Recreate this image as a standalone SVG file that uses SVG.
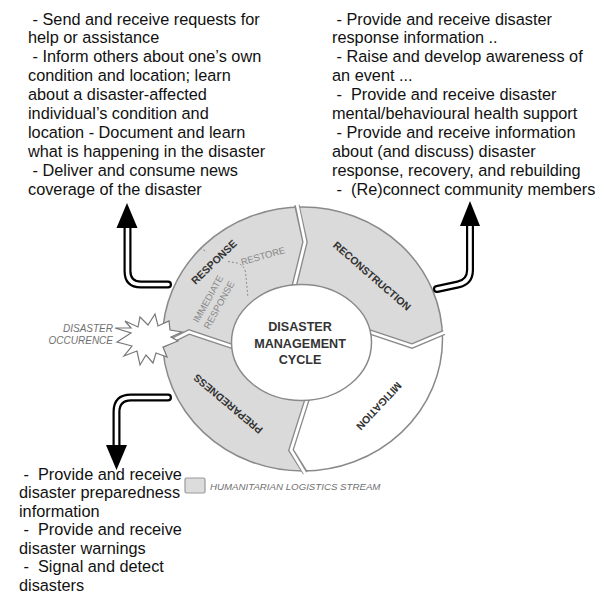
<svg xmlns="http://www.w3.org/2000/svg" width="606" height="596" viewBox="0 0 606 596">
<style>
.t{font-family:"Liberation Sans",Arial,sans-serif;font-size:16.3px;fill:#111}
.seg{stroke:none}
.g{fill:#dadada}
.w{fill:#ffffff}
.gapo{fill:none;stroke:#8a8a8a;stroke-width:5.5;stroke-linejoin:miter}
.gapi{fill:none;stroke:#ffffff;stroke-width:2.8;stroke-linejoin:miter}
.lbl{font-family:"Liberation Sans",Arial,sans-serif;font-size:10.5px;font-weight:bold;fill:#333;text-anchor:middle}
.sub{font-family:"Liberation Sans",Arial,sans-serif;font-size:9.5px;fill:#888;text-anchor:middle}
.ctr{font-family:"Liberation Sans",Arial,sans-serif;font-size:12.6px;font-weight:bold;fill:#333;text-anchor:middle}
.ital{font-family:"Liberation Sans",Arial,sans-serif;font-style:italic;fill:#707070}
.sh1{fill:none;stroke:#000;stroke-width:8;stroke-linecap:round;stroke-linejoin:round}
.sh2{fill:none;stroke:#fff;stroke-width:3.6;stroke-linecap:round;stroke-linejoin:round}
</style>

<g id="text-response" class="t">
<text x="28" y="24.5">&#160;- Send and receive requests for</text>
<text x="28" y="43.4">help or assistance</text>
<text x="28" y="62.4">&#160;- Inform others about one’s own</text>
<text x="28" y="81.3">condition and location; learn</text>
<text x="28" y="100.3">about a disaster-affected</text>
<text x="28" y="119.2">individual’s condition and</text>
<text x="28" y="138.2">location - Document and learn</text>
<text x="28" y="157.1">what is happening in the disaster</text>
<text x="28" y="176.1">&#160;- Deliver and consume news</text>
<text x="28" y="195">coverage of the disaster</text>
</g>

<g id="text-reconstruction" class="t">
<text x="332" y="24.5">&#160;- Provide and receive disaster</text>
<text x="332" y="43.4">response information ..</text>
<text x="332" y="62.4">&#160;- Raise and develop awareness of</text>
<text x="332" y="81.3">an event ...</text>
<text x="332" y="100.3">&#160;-&#160; Provide and receive disaster</text>
<text x="332" y="119.2">mental/behavioural health support</text>
<text x="332" y="138.2">&#160;- Provide and receive information</text>
<text x="332" y="157.1">about (and discuss) disaster</text>
<text x="332" y="176.1">response, recovery, and rebuilding</text>
<text x="332" y="195">&#160;-&#160; (Re)connect community members</text>
</g>

<g id="text-preparedness" class="t">
<text x="19" y="479.5">&#160;-&#160; Provide and receive</text>
<text x="19" y="498">disaster preparedness</text>
<text x="19" y="516.5">information</text>
<text x="19" y="535">&#160;-&#160; Provide and receive</text>
<text x="19" y="553.5">disaster warnings</text>
<text x="19" y="572">&#160;-&#160; Signal and detect</text>
<text x="19" y="590.5">disasters</text>
</g>

<g id="seg-response">
<path class="seg g" d="M302 339 L246 351 L189 332 L163 345 A140 132 0 0 1 297 207 L305 242 L292 295 Z"/>
</g>
<g id="seg-reconstruction">
<path class="seg g" d="M302 339 L292 295 L305 242 L297 207 A140 132 0 0 1 442.4 333 L412 346 L355 327 Z"/>
</g>
<g id="seg-mitigation">
<path class="seg w" d="M302 339 L355 327 L412 346 L442.4 333 A140 132 0 0 1 305 471 L291 450 L311 387 Z"/>
</g>
<g id="seg-preparedness">
<path class="seg g" d="M302 339 L311 387 L291 450 L305 471 A140 132 0 0 1 163 345 L189 332 L246 351 Z"/>
</g>

<g id="ring-lines">
<ellipse cx="302.5" cy="339" rx="140" ry="132" fill="none" stroke="#8a8a8a" stroke-width="1.5"/>
<polyline class="gapo" points="296.8,205 305,242 292,295"/>
<polyline class="gapi" points="296.8,203 305,242 292,295"/>
<polyline class="gapo" points="444,332.5 412,346 355,327"/>
<polyline class="gapi" points="446,331.7 412,346 355,327"/>
<polyline class="gapo" points="305.4,473 291,450 311,387"/>
<polyline class="gapi" points="306,475 291,450 311,387"/>
<polyline class="gapo" points="161,346 189,332 246,351"/>
<polyline class="gapi" points="159,347 189,332 246,351"/>
<path d="M200 248 L207 252 M228 261.5 L237 263 Q244 265 245.5 272 L248 298" fill="none" stroke="#8a8a8a" stroke-width="1" stroke-dasharray="2,2"/>
</g>

<g id="center">
<ellipse cx="301.5" cy="342.5" rx="70" ry="58" fill="#fff" stroke="#8a8a8a" stroke-width="1.5"/>
<text class="ctr" x="300" y="331">DISASTER</text>
<text class="ctr" x="300" y="347.5">MANAGEMENT</text>
<text class="ctr" x="300" y="364">CYCLE</text>
</g>

<g id="labels">
<text class="lbl" transform="translate(214,262) rotate(-44)" dy="3.7">RESPONSE</text>
<text class="sub" transform="translate(263,256) rotate(-16)" dy="3.3">RESTORE</text>
<text class="sub" transform="translate(208,299) rotate(-61)" dy="3.3">IMMEDIATE</text>
<text class="sub" transform="translate(219,305) rotate(-61)" dy="3.3">RESPONSE</text>
<text class="lbl" transform="translate(372,276) rotate(41)" dy="3.7">RECONSTRUCTION</text>
<text class="lbl" transform="translate(379,406) rotate(133)" dy="3.7">MITIGATION</text>
<text class="lbl" transform="translate(228,404) rotate(-140)" dy="3.7">PREPAREDNESS</text>
</g>

<g id="disaster-occurence">
<polygon points="115,328 131,333 117,342 132,346 124,356 137,351 140,365 146,355 153,363 156,353 167,357 163,347 178,341 171,337 182,332 170,330 169,321 158,326 155,314 148,325 140,317 138,327 125,321 131,328" fill="#fff" stroke="#777" stroke-width="1.2" stroke-linejoin="miter"/>
<text class="ital" x="113" y="332" font-size="10" text-anchor="end">DISASTER</text>
<text class="ital" x="113" y="343.5" font-size="10" text-anchor="end">OCCURENCE</text>
</g>

<g id="connectors">
<path class="sh1" d="M168 284.5 L141 284.5 Q127.5 284.5 127.5 271 L127.5 226"/>
<path class="sh2" d="M168 284.5 L141 284.5 Q127.5 284.5 127.5 271 L127.5 226"/>
<polygon points="116.5,228 137.5,228 127,203" fill="#000"/>
<path class="sh1" d="M437 289 L458 284.5 Q470 282 470 270 L470 226"/>
<path class="sh2" d="M437 289 L458 284.5 Q470 282 470 270 L470 226"/>
<polygon points="460,226 480,226 470,201" fill="#000"/>
<path class="sh1" d="M168 397.5 L131 397.5 Q116.5 397.5 116.5 412 L116.5 447"/>
<path class="sh2" d="M168 397.5 L131 397.5 Q116.5 397.5 116.5 412 L116.5 447"/>
<polygon points="106,445 127,445 116.5,470" fill="#000"/>
</g>

<g id="legend">
<rect x="185" y="478" width="20" height="15" rx="1.5" fill="#dcdcdc" stroke="#999" stroke-width="1.2"/>
<text class="ital" x="210" y="490" font-size="9.7">HUMANITARIAN LOGISTICS STREAM</text>
</g>
</svg>
